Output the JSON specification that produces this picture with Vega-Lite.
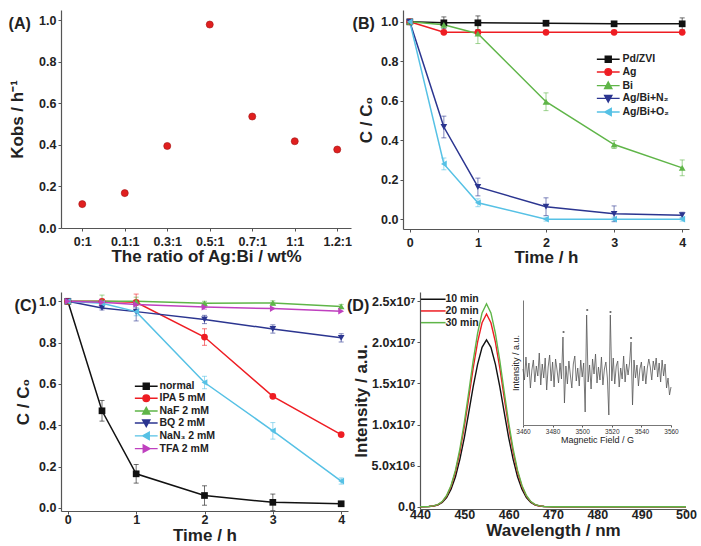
{
  "$schema": "https://vega.github.io/schema/vega-lite/v6.json",
  "padding": {"left": 8, "top": 10, "right": 5, "bottom": 5},
  "datasets": {
    "a": [
      {"ratio": "0:1", "k": 0.115}, {"ratio": "0.1:1", "k": 0.168}, {"ratio": "0.3:1", "k": 0.395},
      {"ratio": "0.5:1", "k": 0.98}, {"ratio": "0.7:1", "k": 0.537}, {"ratio": "1:1", "k": 0.418}, {"ratio": "1.2:1", "k": 0.378}
    ],
    "b": [
      {"s": "Pd/ZVI", "t": 0, "c": 1.0, "e": 0}, {"s": "Pd/ZVI", "t": 0.5, "c": 0.995, "e": 0.03}, {"s": "Pd/ZVI", "t": 1, "c": 0.995, "e": 0.035},
      {"s": "Pd/ZVI", "t": 2, "c": 0.993, "e": 0.012}, {"s": "Pd/ZVI", "t": 3, "c": 0.99, "e": 0.01}, {"s": "Pd/ZVI", "t": 4, "c": 0.99, "e": 0.03},
      {"s": "Ag", "t": 0, "c": 1.0, "e": 0}, {"s": "Ag", "t": 0.5, "c": 0.947, "e": 0.005}, {"s": "Ag", "t": 1, "c": 0.947, "e": 0.005},
      {"s": "Ag", "t": 2, "c": 0.947, "e": 0}, {"s": "Ag", "t": 3, "c": 0.947, "e": 0}, {"s": "Ag", "t": 4, "c": 0.947, "e": 0},
      {"s": "Bi", "t": 0, "c": 1.0, "e": 0}, {"s": "Bi", "t": 0.5, "c": 0.985, "e": 0.01}, {"s": "Bi", "t": 1, "c": 0.94, "e": 0.05},
      {"s": "Bi", "t": 2, "c": 0.595, "e": 0.045}, {"s": "Bi", "t": 3, "c": 0.378, "e": 0.02}, {"s": "Bi", "t": 4, "c": 0.26, "e": 0.04},
      {"s": "Ag/Bi+N₂", "t": 0, "c": 1.0, "e": 0}, {"s": "Ag/Bi+N₂", "t": 0.5, "c": 0.467, "e": 0.055}, {"s": "Ag/Bi+N₂", "t": 1, "c": 0.163, "e": 0.045},
      {"s": "Ag/Bi+N₂", "t": 2, "c": 0.063, "e": 0.045}, {"s": "Ag/Bi+N₂", "t": 3, "c": 0.027, "e": 0.04}, {"s": "Ag/Bi+N₂", "t": 4, "c": 0.02, "e": 0.015},
      {"s": "Ag/Bi+O₂", "t": 0, "c": 1.0, "e": 0}, {"s": "Ag/Bi+O₂", "t": 0.5, "c": 0.28, "e": 0.03}, {"s": "Ag/Bi+O₂", "t": 1, "c": 0.083, "e": 0.02},
      {"s": "Ag/Bi+O₂", "t": 2, "c": 0.0, "e": 0.01}, {"s": "Ag/Bi+O₂", "t": 3, "c": 0.0, "e": 0.01}, {"s": "Ag/Bi+O₂", "t": 4, "c": 0.0, "e": 0.01}
    ],
    "c": [
      {"s": "normal", "t": 0, "c": 1.0, "e": 0}, {"s": "normal", "t": 0.5, "c": 0.47, "e": 0.05}, {"s": "normal", "t": 1, "c": 0.165, "e": 0.045},
      {"s": "normal", "t": 2, "c": 0.06, "e": 0.047}, {"s": "normal", "t": 3, "c": 0.027, "e": 0.04}, {"s": "normal", "t": 4, "c": 0.02, "e": 0},
      {"s": "IPA 5 mM", "t": 0, "c": 1.0, "e": 0}, {"s": "IPA 5 mM", "t": 0.5, "c": 1.0, "e": 0}, {"s": "IPA 5 mM", "t": 1, "c": 0.995, "e": 0.04},
      {"s": "IPA 5 mM", "t": 2, "c": 0.827, "e": 0.04}, {"s": "IPA 5 mM", "t": 3, "c": 0.54, "e": 0.01}, {"s": "IPA 5 mM", "t": 4, "c": 0.355, "e": 0.01},
      {"s": "NaF 2 mM", "t": 0, "c": 1.0, "e": 0}, {"s": "NaF 2 mM", "t": 0.5, "c": 1.0, "e": 0.03}, {"s": "NaF 2 mM", "t": 1, "c": 1.0, "e": 0.02},
      {"s": "NaF 2 mM", "t": 2, "c": 0.99, "e": 0.01}, {"s": "NaF 2 mM", "t": 3, "c": 0.992, "e": 0.01}, {"s": "NaF 2 mM", "t": 4, "c": 0.975, "e": 0.01},
      {"s": "BQ 2 mM", "t": 0, "c": 1.0, "e": 0}, {"s": "BQ 2 mM", "t": 0.5, "c": 0.968, "e": 0.01}, {"s": "BQ 2 mM", "t": 1, "c": 0.95, "e": 0.045},
      {"s": "BQ 2 mM", "t": 2, "c": 0.912, "e": 0.02}, {"s": "BQ 2 mM", "t": 3, "c": 0.866, "e": 0.02}, {"s": "BQ 2 mM", "t": 4, "c": 0.823, "e": 0.02},
      {"s": "NaN₃ 2 mM", "t": 0, "c": 1.0, "e": 0}, {"s": "NaN₃ 2 mM", "t": 0.5, "c": 0.99, "e": 0.02}, {"s": "NaN₃ 2 mM", "t": 1, "c": 0.95, "e": 0.02},
      {"s": "NaN₃ 2 mM", "t": 2, "c": 0.607, "e": 0.03}, {"s": "NaN₃ 2 mM", "t": 3, "c": 0.373, "e": 0.04}, {"s": "NaN₃ 2 mM", "t": 4, "c": 0.13, "e": 0.015},
      {"s": "TFA 2 mM", "t": 0, "c": 1.0, "e": 0}, {"s": "TFA 2 mM", "t": 0.5, "c": 0.995, "e": 0}, {"s": "TFA 2 mM", "t": 1, "c": 0.985, "e": 0},
      {"s": "TFA 2 mM", "t": 2, "c": 0.972, "e": 0.01}, {"s": "TFA 2 mM", "t": 3, "c": 0.965, "e": 0}, {"s": "TFA 2 mM", "t": 4, "c": 0.952, "e": 0}
    ],
    "d": [
      {"t": "10 min", "w": 440, "v": 0}, {"t": "10 min", "w": 442, "v": 20000}, {"t": "10 min", "w": 443, "v": 80000}, {"t": "10 min", "w": 444, "v": 200000},
      {"t": "10 min", "w": 445, "v": 510000}, {"t": "10 min", "w": 446, "v": 1120000}, {"t": "10 min", "w": 447, "v": 2130000}, {"t": "10 min", "w": 448, "v": 3650000},
      {"t": "10 min", "w": 449, "v": 5790000}, {"t": "10 min", "w": 450, "v": 8420000}, {"t": "10 min", "w": 451, "v": 11470000}, {"t": "10 min", "w": 452, "v": 14620000},
      {"t": "10 min", "w": 453, "v": 17360000}, {"t": "10 min", "w": 454, "v": 19390000}, {"t": "10 min", "w": 455, "v": 20300000}, {"t": "10 min", "w": 456, "v": 19390000},
      {"t": "10 min", "w": 457, "v": 17360000}, {"t": "10 min", "w": 458, "v": 14620000}, {"t": "10 min", "w": 459, "v": 11470000}, {"t": "10 min", "w": 460, "v": 8420000},
      {"t": "10 min", "w": 461, "v": 5790000}, {"t": "10 min", "w": 462, "v": 3650000}, {"t": "10 min", "w": 463, "v": 2130000}, {"t": "10 min", "w": 464, "v": 1120000},
      {"t": "10 min", "w": 465, "v": 510000}, {"t": "10 min", "w": 466, "v": 200000}, {"t": "10 min", "w": 467, "v": 80000}, {"t": "10 min", "w": 468, "v": 20000},
      {"t": "10 min", "w": 470, "v": 0}, {"t": "10 min", "w": 480, "v": 0}, {"t": "10 min", "w": 490, "v": 0}, {"t": "10 min", "w": 500, "v": 0},
      {"t": "20 min", "w": 440, "v": 0}, {"t": "20 min", "w": 442, "v": 20000}, {"t": "20 min", "w": 443, "v": 90000}, {"t": "20 min", "w": 444, "v": 230000},
      {"t": "20 min", "w": 445, "v": 590000}, {"t": "20 min", "w": 446, "v": 1290000}, {"t": "20 min", "w": 447, "v": 2460000}, {"t": "20 min", "w": 448, "v": 4220000},
      {"t": "20 min", "w": 449, "v": 6680000}, {"t": "20 min", "w": 450, "v": 9730000}, {"t": "20 min", "w": 451, "v": 13250000}, {"t": "20 min", "w": 452, "v": 16880000},
      {"t": "20 min", "w": 453, "v": 20050000}, {"t": "20 min", "w": 454, "v": 22390000}, {"t": "20 min", "w": 455, "v": 23450000}, {"t": "20 min", "w": 456, "v": 22390000},
      {"t": "20 min", "w": 457, "v": 20050000}, {"t": "20 min", "w": 458, "v": 16880000}, {"t": "20 min", "w": 459, "v": 13250000}, {"t": "20 min", "w": 460, "v": 9730000},
      {"t": "20 min", "w": 461, "v": 6680000}, {"t": "20 min", "w": 462, "v": 4220000}, {"t": "20 min", "w": 463, "v": 2460000}, {"t": "20 min", "w": 464, "v": 1290000},
      {"t": "20 min", "w": 465, "v": 590000}, {"t": "20 min", "w": 466, "v": 230000}, {"t": "20 min", "w": 467, "v": 90000}, {"t": "20 min", "w": 468, "v": 20000},
      {"t": "20 min", "w": 470, "v": 0}, {"t": "20 min", "w": 480, "v": 0}, {"t": "20 min", "w": 490, "v": 0}, {"t": "20 min", "w": 500, "v": 0},
      {"t": "30 min", "w": 440, "v": 0}, {"t": "30 min", "w": 442, "v": 20000}, {"t": "30 min", "w": 443, "v": 100000}, {"t": "30 min", "w": 444, "v": 250000},
      {"t": "30 min", "w": 445, "v": 620000}, {"t": "30 min", "w": 446, "v": 1360000}, {"t": "30 min", "w": 447, "v": 2590000}, {"t": "30 min", "w": 448, "v": 4450000},
      {"t": "30 min", "w": 449, "v": 7040000}, {"t": "30 min", "w": 450, "v": 10250000}, {"t": "30 min", "w": 451, "v": 13960000}, {"t": "30 min", "w": 452, "v": 17780000},
      {"t": "30 min", "w": 453, "v": 21120000}, {"t": "30 min", "w": 454, "v": 23590000}, {"t": "30 min", "w": 455, "v": 24700000}, {"t": "30 min", "w": 456, "v": 23590000},
      {"t": "30 min", "w": 457, "v": 21120000}, {"t": "30 min", "w": 458, "v": 17780000}, {"t": "30 min", "w": 459, "v": 13960000}, {"t": "30 min", "w": 460, "v": 10250000},
      {"t": "30 min", "w": 461, "v": 7040000}, {"t": "30 min", "w": 462, "v": 4450000}, {"t": "30 min", "w": 463, "v": 2590000}, {"t": "30 min", "w": 464, "v": 1360000},
      {"t": "30 min", "w": 465, "v": 620000}, {"t": "30 min", "w": 466, "v": 250000}, {"t": "30 min", "w": 467, "v": 100000}, {"t": "30 min", "w": 468, "v": 20000},
      {"t": "30 min", "w": 470, "v": 0}, {"t": "30 min", "w": 480, "v": 0}, {"t": "30 min", "w": 490, "v": 0}, {"t": "30 min", "w": 500, "v": 0}
    ],
    "esr": [
      {"f": 3460, "i": 0.3}, {"f": 3461, "i": -0.8}, {"f": 3462, "i": 1.5}, {"f": 3463, "i": -0.5}, {"f": 3464, "i": 0.9},
      {"f": 3465, "i": -1.6}, {"f": 3466, "i": 0.2}, {"f": 3467, "i": 1.2}, {"f": 3468, "i": -1.0}, {"f": 3469, "i": 0.6},
      {"f": 3470, "i": -0.4}, {"f": 3471, "i": 1.9}, {"f": 3472, "i": -1.3}, {"f": 3473, "i": 0.8}, {"f": 3474, "i": -0.6},
      {"f": 3475, "i": 1.4}, {"f": 3476, "i": -1.8}, {"f": 3477, "i": 0.5}, {"f": 3478, "i": 1.7}, {"f": 3479, "i": -0.9},
      {"f": 3480, "i": 1.0}, {"f": 3481, "i": -1.5}, {"f": 3482, "i": 1.3}, {"f": 3483, "i": 0.2}, {"f": 3484, "i": -1.1},
      {"f": 3485, "i": 0.9}, {"f": 3486, "i": -0.7}, {"f": 3487, "i": 3.5}, {"f": 3488, "i": -3.1}, {"f": 3489, "i": 0.6},
      {"f": 3490, "i": -1.2}, {"f": 3491, "i": 1.1}, {"f": 3492, "i": -0.3}, {"f": 3493, "i": -1.6}, {"f": 3494, "i": 0.8},
      {"f": 3495, "i": 1.6}, {"f": 3496, "i": -0.9}, {"f": 3497, "i": 0.4}, {"f": 3498, "i": -1.4}, {"f": 3499, "i": 1.2},
      {"f": 3500, "i": -0.5}, {"f": 3501, "i": 0.9}, {"f": 3502, "i": -4.0}, {"f": 3503, "i": 5.7}, {"f": 3504, "i": -1.0},
      {"f": 3505, "i": 0.7}, {"f": 3506, "i": -1.7}, {"f": 3507, "i": 1.3}, {"f": 3508, "i": -0.2}, {"f": 3509, "i": 1.8},
      {"f": 3510, "i": -1.1}, {"f": 3511, "i": 0.5}, {"f": 3512, "i": -0.8}, {"f": 3513, "i": 1.5}, {"f": 3514, "i": -1.3},
      {"f": 3515, "i": 0.3}, {"f": 3516, "i": 1.0}, {"f": 3517, "i": -0.6}, {"f": 3518, "i": -4.3}, {"f": 3519, "i": 5.7},
      {"f": 3520, "i": -0.9}, {"f": 3521, "i": 1.4}, {"f": 3522, "i": -1.2}, {"f": 3523, "i": 0.6}, {"f": 3524, "i": 1.1},
      {"f": 3525, "i": -1.5}, {"f": 3526, "i": 0.4}, {"f": 3527, "i": -0.7}, {"f": 3528, "i": 1.6}, {"f": 3529, "i": -1.0},
      {"f": 3530, "i": 0.8}, {"f": 3531, "i": -0.3}, {"f": 3532, "i": 0.9}, {"f": 3533, "i": 3.0}, {"f": 3534, "i": -3.3},
      {"f": 3535, "i": 1.2}, {"f": 3536, "i": -0.6}, {"f": 3537, "i": 0.7}, {"f": 3538, "i": -1.4}, {"f": 3539, "i": 0.3},
      {"f": 3540, "i": 1.0}, {"f": 3541, "i": -0.9}, {"f": 3542, "i": 0.6}, {"f": 3543, "i": -1.2}, {"f": 3544, "i": 0.4},
      {"f": 3545, "i": 1.3}, {"f": 3546, "i": 0.5}, {"f": 3547, "i": -0.8}, {"f": 3548, "i": 1.1}, {"f": 3549, "i": 0.2},
      {"f": 3550, "i": 1.4}, {"f": 3551, "i": -0.5}, {"f": 3552, "i": 0.9}, {"f": 3553, "i": -1.0}, {"f": 3554, "i": 1.2},
      {"f": 3555, "i": -0.4}, {"f": 3556, "i": 0.8}, {"f": 3557, "i": -1.6}, {"f": 3558, "i": -0.6}, {"f": 3559, "i": -2.3},
      {"f": 3560, "i": -1.5}
    ],
    "stars": [
      {"f": 3487.4, "i": 4.0}, {"f": 3503.4, "i": 6.2}, {"f": 3519.1, "i": 6.0}, {"f": 3533.0, "i": 3.4}
    ]
  },
  "vconcat": [
    {
      "hconcat": [
        {
          "width": 290, "height": 218,
          "title": {"text": "(A)", "anchor": "start", "frame": "bounds", "offset": 0, "dy": 22},
          "data": {"name": "a"},
          "mark": {"type": "point", "filled": true, "size": 50, "color": "#e01f1f", "stroke": "#a31212", "strokeWidth": 0.6, "opacity": 1},
          "encoding": {
            "x": {"field": "ratio", "type": "ordinal", "sort": null,
                  "scale": {"type": "point", "padding": 0.412, "align": 0.607},
                  "axis": {"title": "The ratio of Ag:Bi / wt%", "labelAngle": 0, "labelPadding": 4, "titlePadding": 1}},
            "y": {"field": "k", "type": "quantitative", "scale": {"domain": [0, 1.05], "nice": false},
                  "axis": {"title": "Kobs / h⁻¹", "values": [0, 0.2, 0.4, 0.6, 0.8, 1.0], "format": ".1f", "labelPadding": 2, "titlePadding": 12}}
          }
        },
        {
          "width": 286, "height": 219,
          "title": {"text": "(B)", "anchor": "start", "frame": "bounds", "offset": 0, "dy": 22, "dx": -5},
          "data": {"name": "b"},
          "encoding": {
            "x": {"field": "t", "type": "quantitative", "scale": {"domain": [-0.1, 4.1], "nice": false, "zero": false},
                  "axis": {"title": "Time / h", "values": [0, 1, 2, 3, 4], "labelFlush": false, "labelPadding": 4, "titlePadding": 1}},
            "y": {"field": "c", "type": "quantitative", "scale": {"domain": [-0.05, 1.06], "nice": false, "zero": false},
                  "axis": {"title": "C / C₀", "values": [0, 0.2, 0.4, 0.6, 0.8, 1.0], "format": ".1f", "labelPadding": 2, "titlePadding": 5}},
            "color": {"field": "s", "type": "nominal"}
          },
          "layer": [
            {
              "transform": [{"filter": "datum.e > 0"}],
              "mark": {"type": "errorbar", "ticks": {"size": 5, "opacity": 0.6}, "rule": {"opacity": 0.6}, "thickness": 1},
              "encoding": {"yError": {"field": "e"}}
            },
            {
              "mark": {"type": "line", "strokeWidth": 1.5},
              "encoding": {
                "color": {"field": "s", "type": "nominal",
                  "scale": {"domain": ["Pd/ZVI", "Ag", "Bi", "Ag/Bi+N₂", "Ag/Bi+O₂"], "range": ["#111111", "#ee1d23", "#5fb548", "#2b3590", "#56c1e5"]},
                  "legend": {"title": null, "orient": "none", "legendX": 200, "legendY": 44, "symbolSize": 36, "symbolOpacity": 1, "symbolStrokeWidth": 1.4, "labelOffset": 9, "rowPadding": -0.3, "padding": 0, "labelFontSize": 10.5,
                    "encode": {"symbols": {"update": {
                      "shape": {"signal": "datum.value == 'Pd/ZVI' ? 'M-3.8,0H3.8M-1,-1H1V1H-1Z' : datum.value == 'Ag' ? 'M-3.8,0H3.8M1.1,0A1.1,1.1,0,1,1,-1.1,0A1.1,1.1,0,1,1,1.1,0Z' : datum.value == 'Bi' ? 'M-3.8,0H3.8M0,-1.2L1.2,1H-1.2Z' : datum.value == 'Ag/Bi+N₂' ? 'M-3.8,0H3.8M0,1.2L1.2,-1H-1.2Z' : 'M-3.8,0H3.8M-1.2,0L1,-1.2V1.2Z'"},
                      "fill": {"signal": "datum.value == 'Pd/ZVI' ? '#111111' : datum.value == 'Ag' ? '#ee1d23' : datum.value == 'Bi' ? '#5fb548' : datum.value == 'Ag/Bi+N₂' ? '#2b3590' : '#56c1e5'"},
                      "stroke": {"signal": "datum.value == 'Pd/ZVI' ? '#111111' : datum.value == 'Ag' ? '#ee1d23' : datum.value == 'Bi' ? '#5fb548' : datum.value == 'Ag/Bi+N₂' ? '#2b3590' : '#56c1e5'"},
                      "strokeWidth": {"value": 1.4},
                      "opacity": {"value": 1}
                    }}}
                  }}
              }
            },
            {"transform": [{"filter": "datum.s == 'Pd/ZVI'"}], "mark": {"type": "point", "filled": true, "size": 45, "opacity": 1, "shape": "square"}},
            {"transform": [{"filter": "datum.s == 'Ag'"}], "mark": {"type": "point", "filled": true, "size": 45, "opacity": 1, "shape": "circle"}},
            {"transform": [{"filter": "datum.s == 'Bi'"}], "mark": {"type": "point", "filled": true, "size": 45, "opacity": 1, "shape": "triangle-up"}},
            {"transform": [{"filter": "datum.s == 'Ag/Bi+N₂'"}], "mark": {"type": "point", "filled": true, "size": 45, "opacity": 1, "shape": "triangle-down"}},
            {"transform": [{"filter": "datum.s == 'Ag/Bi+O₂'"}], "mark": {"type": "point", "filled": true, "size": 45, "opacity": 1, "shape": "triangle-left"}}
          ]
        }
      ],
      "spacing": 0,
      "resolve": {"scale": {"color": "independent"}, "legend": {"color": "independent"}}
    },
    {
      "hconcat": [
        {
          "width": 287, "height": 219,
          "title": {"text": "(C)", "anchor": "start", "frame": "bounds", "offset": 0, "dy": 22},
          "data": {"name": "c"},
          "encoding": {
            "x": {"field": "t", "type": "quantitative", "scale": {"domain": [-0.1, 4.1], "nice": false, "zero": false},
                  "axis": {"title": "Time / h", "values": [0, 1, 2, 3, 4], "labelFlush": false, "labelPadding": -1, "titlePadding": 2}},
            "y": {"field": "c", "type": "quantitative", "scale": {"domain": [-0.015, 1.045], "nice": false, "zero": false},
                  "axis": {"title": "C / C₀", "values": [0, 0.2, 0.4, 0.6, 0.8, 1.0], "format": ".1f", "labelPadding": 2, "titlePadding": 6}},
            "color": {"field": "s", "type": "nominal"}
          },
          "layer": [
            {
              "transform": [{"filter": "datum.e > 0"}],
              "mark": {"type": "errorbar", "ticks": {"size": 5, "opacity": 0.6}, "rule": {"opacity": 0.6}, "thickness": 1},
              "encoding": {"yError": {"field": "e"}}
            },
            {
              "mark": {"type": "line", "strokeWidth": 1.5},
              "encoding": {
                "color": {"field": "s", "type": "nominal",
                  "scale": {"domain": ["normal", "IPA 5 mM", "NaF 2 mM", "BQ 2 mM", "NaN₃ 2 mM", "TFA 2 mM"], "range": ["#111111", "#ee1d23", "#5fb548", "#2b3590", "#56c1e5", "#bf40bf"]},
                  "legend": {"title": null, "orient": "none", "legendX": 80, "legendY": 89, "symbolSize": 36, "symbolOpacity": 1, "symbolStrokeWidth": 1.4, "labelOffset": 8, "rowPadding": -1.2, "padding": 0, "labelFontSize": 10.5,
                    "encode": {"symbols": {"update": {
                      "shape": {"signal": "datum.value == 'normal' ? 'M-3.8,0H3.8M-1,-1H1V1H-1Z' : datum.value == 'IPA 5 mM' ? 'M-3.8,0H3.8M1.1,0A1.1,1.1,0,1,1,-1.1,0A1.1,1.1,0,1,1,1.1,0Z' : datum.value == 'NaF 2 mM' ? 'M-3.8,0H3.8M0,-1.2L1.2,1H-1.2Z' : datum.value == 'BQ 2 mM' ? 'M-3.8,0H3.8M0,1.2L1.2,-1H-1.2Z' : datum.value == 'NaN₃ 2 mM' ? 'M-3.8,0H3.8M-1.2,0L1,-1.2V1.2Z' : 'M-3.8,0H3.8M1.2,0L-1,-1.2V1.2Z'"},
                      "fill": {"signal": "datum.value == 'normal' ? '#111111' : datum.value == 'IPA 5 mM' ? '#ee1d23' : datum.value == 'NaF 2 mM' ? '#5fb548' : datum.value == 'BQ 2 mM' ? '#2b3590' : datum.value == 'NaN₃ 2 mM' ? '#56c1e5' : '#bf40bf'"},
                      "stroke": {"signal": "datum.value == 'normal' ? '#111111' : datum.value == 'IPA 5 mM' ? '#ee1d23' : datum.value == 'NaF 2 mM' ? '#5fb548' : datum.value == 'BQ 2 mM' ? '#2b3590' : datum.value == 'NaN₃ 2 mM' ? '#56c1e5' : '#bf40bf'"},
                      "strokeWidth": {"value": 1.4},
                      "opacity": {"value": 1}
                    }}}
                  }}
              }
            },
            {"transform": [{"filter": "datum.s == 'normal'"}], "mark": {"type": "point", "filled": true, "size": 45, "opacity": 1, "shape": "square"}},
            {"transform": [{"filter": "datum.s == 'IPA 5 mM'"}], "mark": {"type": "point", "filled": true, "size": 45, "opacity": 1, "shape": "circle"}},
            {"transform": [{"filter": "datum.s == 'NaF 2 mM'"}], "mark": {"type": "point", "filled": true, "size": 45, "opacity": 1, "shape": "triangle-up"}},
            {"transform": [{"filter": "datum.s == 'BQ 2 mM'"}], "mark": {"type": "point", "filled": true, "size": 45, "opacity": 1, "shape": "triangle-down"}},
            {"transform": [{"filter": "datum.s == 'NaN₃ 2 mM'"}], "mark": {"type": "point", "filled": true, "size": 45, "opacity": 1, "shape": "triangle-left"}},
            {"transform": [{"filter": "datum.s == 'TFA 2 mM'"}], "mark": {"type": "point", "filled": true, "size": 45, "opacity": 1, "shape": "triangle-right"}}
          ]
        },
        {
          "width": 266, "height": 217,
          "title": {"text": "(D)", "anchor": "start", "frame": "bounds", "offset": 0, "dy": 22, "dx": -5},
          "layer": [
            {
              "data": {"name": "d"},
              "mark": {"type": "line", "strokeWidth": 1.4},
              "encoding": {
                "x": {"field": "w", "type": "quantitative", "scale": {"domain": [440, 500], "nice": false, "zero": false},
                      "axis": {"title": "Wavelength / nm", "orient": "bottom", "values": [440, 450, 460, 470, 480, 490, 500], "labelFlush": false, "labelPadding": -4, "titlePadding": 2}},
                "y": {"field": "v", "type": "quantitative", "scale": {"domain": [-280000, 26130000], "nice": false, "zero": false},
                      "axis": {"title": "Intensity / a.u.", "orient": "left", "values": [0, 5000000, 10000000, 15000000, 20000000, 25000000], "labelPadding": 2, "titlePadding": 1,
                               "labelExpr": "datum.value == 0 ? '0.0' : datum.value < 9000000 ? format(datum.value / 1000000, '.1f') + 'x10⁶' : format(datum.value / 10000000, '.1f') + 'x10⁷'"}},
                "color": {"field": "t", "type": "nominal",
                  "scale": {"domain": ["10 min", "20 min", "30 min"], "range": ["#111111", "#ee1d23", "#5fb548"]},
                  "legend": {"title": null, "orient": "none", "legendX": 8, "legendY": 2, "symbolSize": 36, "symbolStrokeWidth": 1.5, "symbolOpacity": 1, "labelOffset": 7, "rowPadding": 0.7, "padding": 0, "labelFontSize": 10.5,
                    "encode": {"symbols": {"update": {"shape": {"value": "M-4.1,0H4.1"}}}}}}
              }
            },
            {
              "layer": [
                {
                  "data": {"name": "esr"},
                  "mark": {"type": "line", "color": "#555555", "strokeWidth": 0.8},
                  "encoding": {
                    "x": {"field": "f", "type": "quantitative", "scale": {"domain": [3460, 3560], "range": [103, 251], "nice": false, "zero": false},
                          "axis": {"title": "Magnetic Field / G", "orient": "bottom", "offset": -84, "values": [3460, 3480, 3500, 3520, 3540, 3560], "format": "d", "labelFlush": false,
                                   "labelFontSize": 6.5, "labelFontWeight": "normal", "labelColor": "#333", "tickSize": 2, "labelPadding": 1,
                                   "titleFontSize": 9, "titleFontWeight": "normal", "titlePadding": 1, "domainColor": "#777", "domainWidth": 1}},
                    "y": {"field": "i", "type": "quantitative", "scale": {"domain": [-5.3, 7.2], "range": [133, 8], "nice": false, "zero": false},
                          "axis": {"title": "Intensity / a.u.", "orient": "left", "offset": -103, "labels": false, "ticks": false,
                                   "titleFontSize": 9, "titleFontWeight": "normal", "titlePadding": 3, "domainColor": "#777", "domainWidth": 1}}
                  }
                },
                {
                  "data": {"name": "stars"},
                  "mark": {"type": "point", "filled": true, "size": 5, "color": "#666666", "opacity": 1},
                  "encoding": {
                    "x": {"field": "f", "type": "quantitative"},
                    "y": {"field": "i", "type": "quantitative"}
                  }
                }
              ]
            }
          ],
          "resolve": {"scale": {"x": "independent", "y": "independent"}, "axis": {"x": "independent", "y": "independent"}}
        }
      ],
      "spacing": -1,
      "resolve": {"scale": {"color": "independent"}, "legend": {"color": "independent"}}
    }
  ],
  "spacing": 26,
  "resolve": {"scale": {"color": "independent"}, "legend": {"color": "independent"}},
  "config": {
    "view": {"stroke": null},
    "font": "Liberation Sans",
    "axis": {"grid": false, "domainColor": "#555555", "tickColor": "#555555", "tickSize": 3, "domainWidth": 1.2,
             "labelFont": "Liberation Sans", "labelFontSize": 12.5, "labelFontWeight": "bold", "labelColor": "#222222",
             "titleFont": "Liberation Sans", "titleFontSize": 17, "titleFontWeight": "bold", "titleColor": "#222222"},
    "legend": {"labelFont": "Liberation Sans", "labelFontSize": 10.5, "labelFontWeight": "bold", "labelColor": "#222222"},
    "title": {"font": "Liberation Sans", "fontSize": 16, "fontWeight": "bold", "color": "#222222"}
  }
}
